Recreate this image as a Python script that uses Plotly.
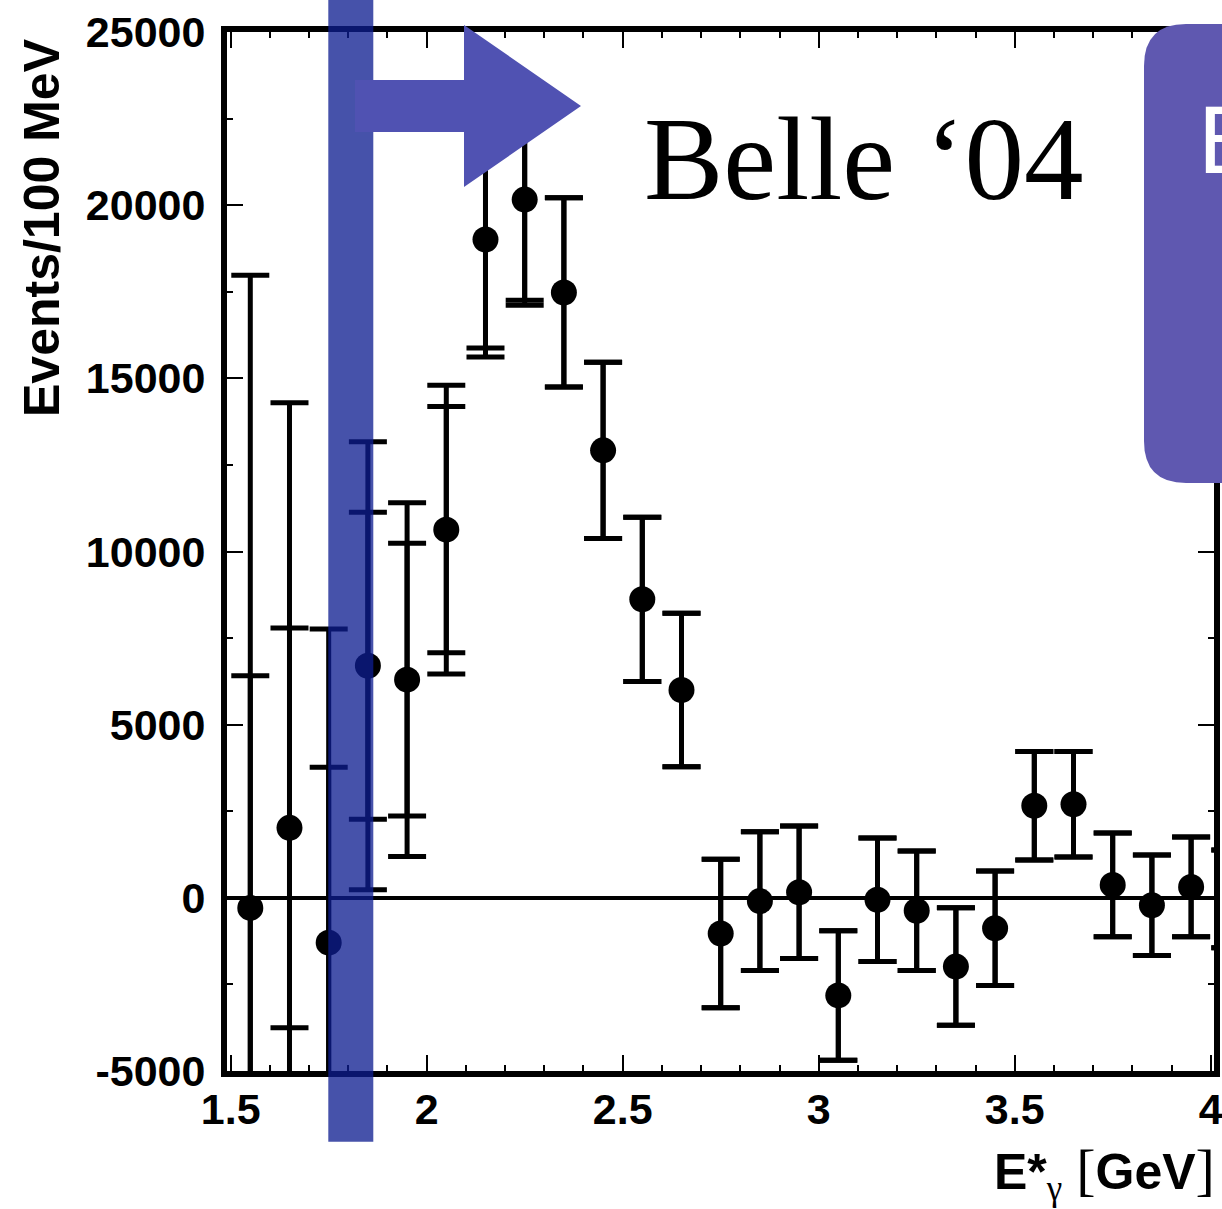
import plotly.graph_objects as go

# ---------------- data ----------------
E_GAMMA = [1.55, 1.65, 1.75, 1.85, 1.95, 2.05, 2.15, 2.25, 2.35, 2.45, 2.55, 2.65, 2.75,
           2.85, 2.95, 3.05, 3.15, 3.25, 3.35, 3.45, 3.55, 3.65, 3.75, 3.85, 3.95, 4.05]
EVENTS = [-290, 2020, -1294, 6701, 6300, 10630, 19010, 20161, 17480, 12920, 8620, 6000, -1030,
          -95, 160, -2818, -57, -373, -1985, -877, 2660, 2703, 374, -216, 316, -29]
ERR_STAT = [6704, 5770, 5062, 4429, 3940, 3555, 3134, 2905, 2732, 2545, 2372, 2215, 2143,
            2000, 1912, 1870, 1783, 1725, 1697, 1653, 1567, 1525, 1496, 1452, 1438, 1409]
ERR_TOTAL = [18265, 12275, 9059, 6471, 5105, 4170, 3393, 3049, 2732, 2545, 2372, 2215, 2143,
             2000, 1912, 1870, 1783, 1725, 1697, 1653, 1567, 1525, 1496, 1452, 1438, 1409]

X_TICKS = [1.5, 2, 2.5, 3, 3.5, 4]
X_TICK_LABELS = ["1.5", "2", "2.5", "3", "3.5", "4"]
Y_TICKS = [-5000, 0, 5000, 10000, 15000, 20000, 25000]
Y_TICK_LABELS = ["-5000", "0", "5000", "10000", "15000", "20000", "25000"]

# ---------------- geometry helpers ----------------
W, H = 1222, 1209
ML, MR, MT, MB = 227, 8, 32, 138
PW, PH = W - ML - MR, H - MT - MB


def px(x):
    return (x - ML) / PW


def py(y):
    return (H - MB - y) / PH


fig = go.Figure()

fig.add_trace(go.Scatter(
    x=E_GAMMA, y=EVENTS, mode="markers",
    marker=dict(size=1, color="rgba(0,0,0,0)"),
    error_y=dict(type="data", array=ERR_STAT, symmetric=True,
                 thickness=5, width=19, color="black"),
    showlegend=False, hoverinfo="skip",
))
fig.add_trace(go.Scatter(
    x=E_GAMMA, y=EVENTS, mode="markers",
    marker=dict(size=26, color="black"),
    error_y=dict(type="data", array=ERR_TOTAL, symmetric=True,
                 thickness=5, width=19, color="black"),
    showlegend=False,
))

axis_font = dict(family="Liberation Sans", size=43, color="black", weight="bold")

fig.update_xaxes(
    range=[1.4906, 4.0084], tickmode="array", tickvals=X_TICKS, ticktext=X_TICK_LABELS,
    ticks="inside", ticklen=16, tickwidth=2, tickcolor="black",
    showline=True, linewidth=6, linecolor="black", mirror="ticks",
    showgrid=False, zeroline=False, tickfont=axis_font, automargin=False,
    ticklabelstandoff=-5, ticklabeloverflow="allow",
    minor=dict(dtick=0.1, tick0=1.5, ticks="inside", ticklen=6, tickwidth=2,
               tickcolor="black", showgrid=False),
)
fig.update_yaxes(
    range=[-5000, 25000], tickmode="array", tickvals=Y_TICKS, ticktext=Y_TICK_LABELS,
    ticks="inside", ticklen=16, tickwidth=2, tickcolor="black",
    showline=True, linewidth=6, linecolor="black", mirror="ticks",
    showgrid=False, zeroline=True, zerolinewidth=4, zerolinecolor="black",
    tickfont=axis_font, automargin=False, ticklabelstandoff=7, ticklabeloverflow="allow",
    minor=dict(dtick=2500, tick0=0, ticks="inside", ticklen=6, tickwidth=2,
               tickcolor="black", showgrid=False),
)

# ---------------- decorations ----------------
def poly(pts):
    return "M " + " L ".join(f"{px(a):.5f},{py(b):.5f}" for a, b in pts) + " Z"


band = dict(type="rect", xref="paper", yref="paper",
            x0=px(328.3), x1=px(373.3), y0=py(1141.7), y1=py(0),
            fillcolor="rgba(13,29,144,0.765)", line=dict(width=0), layer="above")

arrow_pts = [(355, 80), (464, 80), (464, 25), (581, 106), (464, 187), (464, 132), (355, 132)]
arrow = dict(type="path", xref="paper", yref="paper", path=poly(arrow_pts),
             fillcolor="rgb(80,82,178)", line=dict(width=0), layer="above")

bl, bt, bb, br, rr = 1144, 24, 483, 1400, 42
box_path = (
    f"M {px(bl + rr):.5f},{py(bt):.5f} L {px(br):.5f},{py(bt):.5f} "
    f"L {px(br):.5f},{py(bb):.5f} L {px(bl + rr):.5f},{py(bb):.5f} "
    f"Q {px(bl):.5f},{py(bb):.5f} {px(bl):.5f},{py(bb - rr):.5f} "
    f"L {px(bl):.5f},{py(bt + rr):.5f} "
    f"Q {px(bl):.5f},{py(bt):.5f} {px(bl + rr):.5f},{py(bt):.5f} Z"
)
box = dict(type="path", xref="paper", yref="paper", path=box_path,
           fillcolor="rgb(95,88,176)", line=dict(width=0), layer="above")

fig.update_layout(shapes=[band, arrow, box])

annotations = [
    dict(text="Belle \u201804", xref="paper", yref="paper", x=px(642), y=py(159),
         xanchor="left", yanchor="middle", showarrow=False,
         font=dict(family="Liberation Serif", size=119, color="black")),
    dict(text="BaBar", xref="paper", yref="paper", x=px(1196), y=py(140),
         xanchor="left", yanchor="middle", showarrow=False,
         font=dict(family="Liberation Sans", size=96, color="white")),
    dict(text="Events/100 MeV", xref="paper", yref="paper", x=px(42), y=py(228),
         xanchor="center", yanchor="middle", textangle=-90, showarrow=False,
         font=dict(family="Liberation Sans", size=50, color="black", weight="bold")),
    dict(text=("<b>E*</b><sub><span style=\"font-family:'Liberation Serif'\">\u03b3</span></sub> "
               "<span style=\"font-family:'Liberation Serif';font-size:58px\">[</span>"
               "<b>GeV</b>"
               "<span style=\"font-family:'Liberation Serif';font-size:58px\">]</span>"),
         xref="paper", yref="paper", x=px(1217), y=py(1172),
         xanchor="right", yanchor="middle", showarrow=False,
         font=dict(family="Liberation Sans", size=50, color="black")),
]
fig.update_layout(annotations=annotations)

fig.update_layout(
    width=W, height=H, margin=dict(l=ML, r=MR, t=MT, b=MB, pad=0, autoexpand=False),
    paper_bgcolor="white", plot_bgcolor="white", showlegend=False,
)

fig.write_html("out.html")
